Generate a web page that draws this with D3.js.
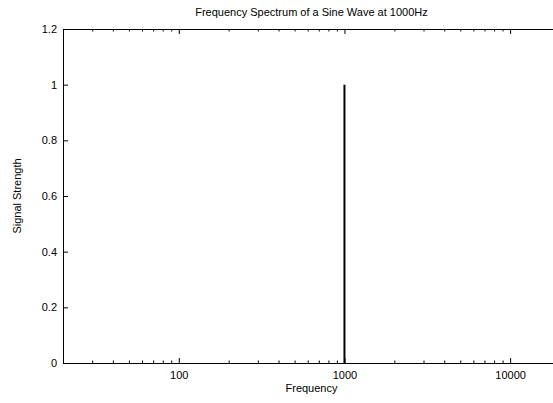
<!DOCTYPE html>
<html lang="en">
<head>
    <meta charset="UTF-8" />
    <title>Frequency Spectrum of a Sine Wave at 1000Hz</title>
    <script src="https://d3js.org/d3.v7.min.js"></script>
    <style>
        body { margin: 0; background: #fff; }
        svg { display: block; }
        text { font-family: "Liberation Sans", Arial, sans-serif; fill: #000; }
        .axis path, .axis line { stroke: #000; }
    </style>
</head>
<body>
    <div id="chart"></div>
    <script>
        // --- Data ---
        const frequencies = [1000];
        const strengths = [1];

        const xDomain = [20, 20000];
        const yDomain = [0, 1.2];
        const xMajor = [100, 1000, 10000];
        const xMinor = [30, 40, 50, 60, 70, 80, 90, 200, 300, 400, 500, 600, 700, 800, 900,
                        2000, 3000, 4000, 5000, 6000, 7000, 8000, 9000];
        const yTicks = [0, 0.2, 0.4, 0.6, 0.8, 1, 1.2];

        const titleText = "Frequency Spectrum of a Sine Wave at 1000Hz";
        const xLabel = "Frequency";
        const yLabel = "Signal Strength";

        // --- Layout ---
        const width = 553, height = 403;
        const margin = { left: 63, top: 29, right: 560, bottom: 363 };

        const svg = d3.select("#chart").append("svg")
            .attr("width", width)
            .attr("height", height);

        const x = d3.scaleLog().domain(xDomain).range([margin.left, margin.right]);
        const y = d3.scaleLinear().domain(yDomain).range([margin.bottom, margin.top]);

        // bottom axis (major + minor, ticks pointing in)
        svg.append("g").attr("class", "axis")
            .attr("transform", `translate(0,${margin.bottom})`)
            .call(d3.axisBottom(x).tickValues(xMajor).tickFormat(d => String(d))
                .tickSizeInner(-5).tickSizeOuter(0).tickPadding(8))
            .call(g => g.selectAll("text").attr("font-size", 11));
        svg.append("g").attr("class", "axis")
            .attr("transform", `translate(0,${margin.bottom})`)
            .call(d3.axisBottom(x).tickValues(xMinor).tickFormat("")
                .tickSizeInner(-2.5).tickSizeOuter(0))
            .call(g => g.select(".domain").remove());

        // top mirror axis
        svg.append("g").attr("class", "axis")
            .attr("transform", `translate(0,${margin.top})`)
            .call(d3.axisTop(x).tickValues(xMajor).tickFormat("")
                .tickSizeInner(-5).tickSizeOuter(0));
        svg.append("g").attr("class", "axis")
            .attr("transform", `translate(0,${margin.top})`)
            .call(d3.axisTop(x).tickValues(xMinor).tickFormat("")
                .tickSizeInner(-2.5).tickSizeOuter(0))
            .call(g => g.select(".domain").remove());

        // left axis
        svg.append("g").attr("class", "axis")
            .attr("transform", `translate(${margin.left},0)`)
            .call(d3.axisLeft(y).tickValues(yTicks).tickFormat(d => String(d))
                .tickSizeInner(-5).tickSizeOuter(0).tickPadding(6))
            .call(g => g.selectAll("text").attr("font-size", 11));

        // right mirror axis (falls just outside the picture)
        svg.append("g").attr("class", "axis")
            .attr("transform", `translate(${margin.right},0)`)
            .call(d3.axisRight(y).tickValues(yTicks).tickFormat("")
                .tickSizeInner(-5).tickSizeOuter(0));

        // impulses
        svg.append("g").selectAll("line")
            .data(frequencies.map((f, i) => ({ f, v: strengths[i] })))
            .join("line")
            .attr("x1", d => x(d.f)).attr("x2", d => x(d.f))
            .attr("y1", y(0)).attr("y2", d => y(d.v))
            .attr("stroke", "#000")
            .attr("stroke-width", 2);

        // titles
        const cx = (margin.left + margin.right) / 2;
        svg.append("text")
            .attr("x", cx).attr("y", 16)
            .attr("text-anchor", "middle")
            .attr("font-size", 11)
            .text(titleText);
        svg.append("text")
            .attr("x", cx).attr("y", 392)
            .attr("text-anchor", "middle")
            .attr("font-size", 11)
            .text(xLabel);
        svg.append("text")
            .attr("transform", `translate(21,${(margin.top + margin.bottom) / 2}) rotate(-90)`)
            .attr("text-anchor", "middle")
            .attr("font-size", 11)
            .text(yLabel);
    </script>
</body>
</html>
